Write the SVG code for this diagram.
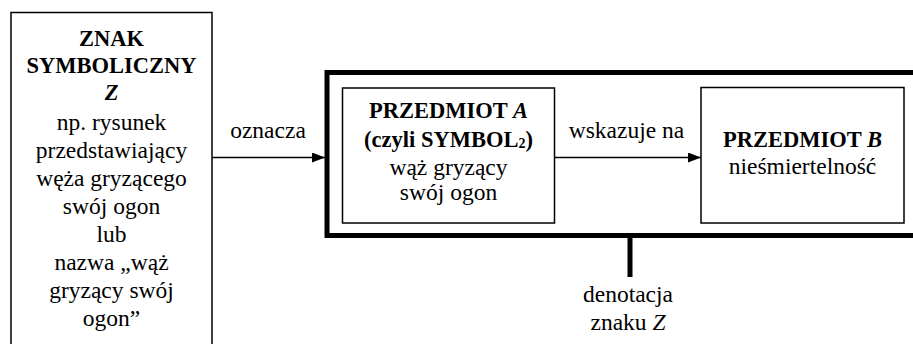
<svg xmlns="http://www.w3.org/2000/svg" width="913" height="344" viewBox="0 0 913 344">
  <style>
    text { fill: #000; text-anchor: middle; }
    .thin { fill: #fff; stroke: #000; stroke-width: 1.5; }
    .thick { fill: none; stroke: #000; stroke-width: 5; }
    .conn { stroke: #000; stroke-width: 1.5; fill: none; }
  </style>
  <defs>
    <marker id="arrow" markerUnits="userSpaceOnUse" markerWidth="14" markerHeight="10" refX="13" refY="5" orient="auto">
      <path d="M0,0 L13,5 L0,10 z" fill="#000"/>
    </marker>
  </defs>

  <rect width="913" height="344" fill="#fff"/>

  <!-- sign Z -->
  <g id="znak">
    <rect class="thin" x="11" y="12.5" width="201" height="345"/>
    <text font-family="Liberation Serif" font-size="22.5" font-weight="bold" x="111.5" y="46">ZNAK</text>
    <text font-family="Liberation Serif" font-size="22.5" font-weight="bold" x="111.5" y="73">SYMBOLICZNY</text>
    <text font-family="Liberation Serif" font-size="22.5" font-weight="bold" font-style="italic" x="111.5" y="100">Z</text>
    <text font-family="Liberation Serif" font-size="23.5" x="111.5" y="130">np. rysunek</text>
    <text font-family="Liberation Serif" font-size="23.5" x="111.5" y="158">przedstawiający</text>
    <text font-family="Liberation Serif" font-size="23.5" x="111.5" y="186">węża gryzącego</text>
    <text font-family="Liberation Serif" font-size="23.5" x="111.5" y="214">swój ogon</text>
    <text font-family="Liberation Serif" font-size="23.5" x="111.5" y="242">lub</text>
    <text font-family="Liberation Serif" font-size="23.5" x="111.5" y="270">nazwa „wąż</text>
    <text font-family="Liberation Serif" font-size="23.5" x="111.5" y="298">gryzący swój</text>
    <text font-family="Liberation Serif" font-size="23.5" x="111.5" y="326">ogon”</text>
  </g>

  <!-- denotation frame -->
  <g id="denotacja">
    <rect class="thick" x="327" y="72.5" width="620" height="163"/>
    <line class="thick" x1="630" y1="236" x2="630" y2="277"/>
    <text font-family="Liberation Serif" font-size="23.5" x="628" y="302">denotacja</text>
    <text font-family="Liberation Serif" font-size="23.5" x="628" y="330">znaku <tspan font-style="italic">Z</tspan></text>
  </g>

  <!-- object A -->
  <g id="przedmiot-a">
    <rect class="thin" x="342.5" y="88" width="212" height="135"/>
    <text font-family="Liberation Serif" font-size="22.5" font-weight="bold" x="448.5" y="118">PRZEDMIOT <tspan font-style="italic">A</tspan></text>
    <text font-family="Liberation Serif" font-size="22.5" font-weight="bold" x="448.5" y="147">(czyli SYMBOL<tspan font-size="14" dy="1">2</tspan><tspan dy="-1">)</tspan></text>
    <text font-family="Liberation Serif" font-size="23.5" x="448.5" y="174.5">wąż gryzący</text>
    <text font-family="Liberation Serif" font-size="23.5" x="448.5" y="200">swój ogon</text>
  </g>

  <!-- object B -->
  <g id="przedmiot-b">
    <rect class="thin" x="701" y="87.5" width="203" height="135.5"/>
    <text font-family="Liberation Serif" font-size="22.5" font-weight="bold" x="802.5" y="147">PRZEDMIOT <tspan font-style="italic">B</tspan></text>
    <text font-family="Liberation Serif" font-size="23.5" x="802.5" y="174">nieśmiertelność</text>
  </g>

  <!-- connectors -->
  <g id="connectors">
    <line class="conn" x1="212" y1="157.5" x2="325" y2="157.5" marker-end="url(#arrow)"/>
    <text font-family="Liberation Serif" font-size="23.5" x="268" y="138">oznacza</text>
    <line class="conn" x1="554.5" y1="157.5" x2="701" y2="157.5" marker-end="url(#arrow)"/>
    <text font-family="Liberation Serif" font-size="23.5" x="626.5" y="138">wskazuje na</text>
  </g>
</svg>
